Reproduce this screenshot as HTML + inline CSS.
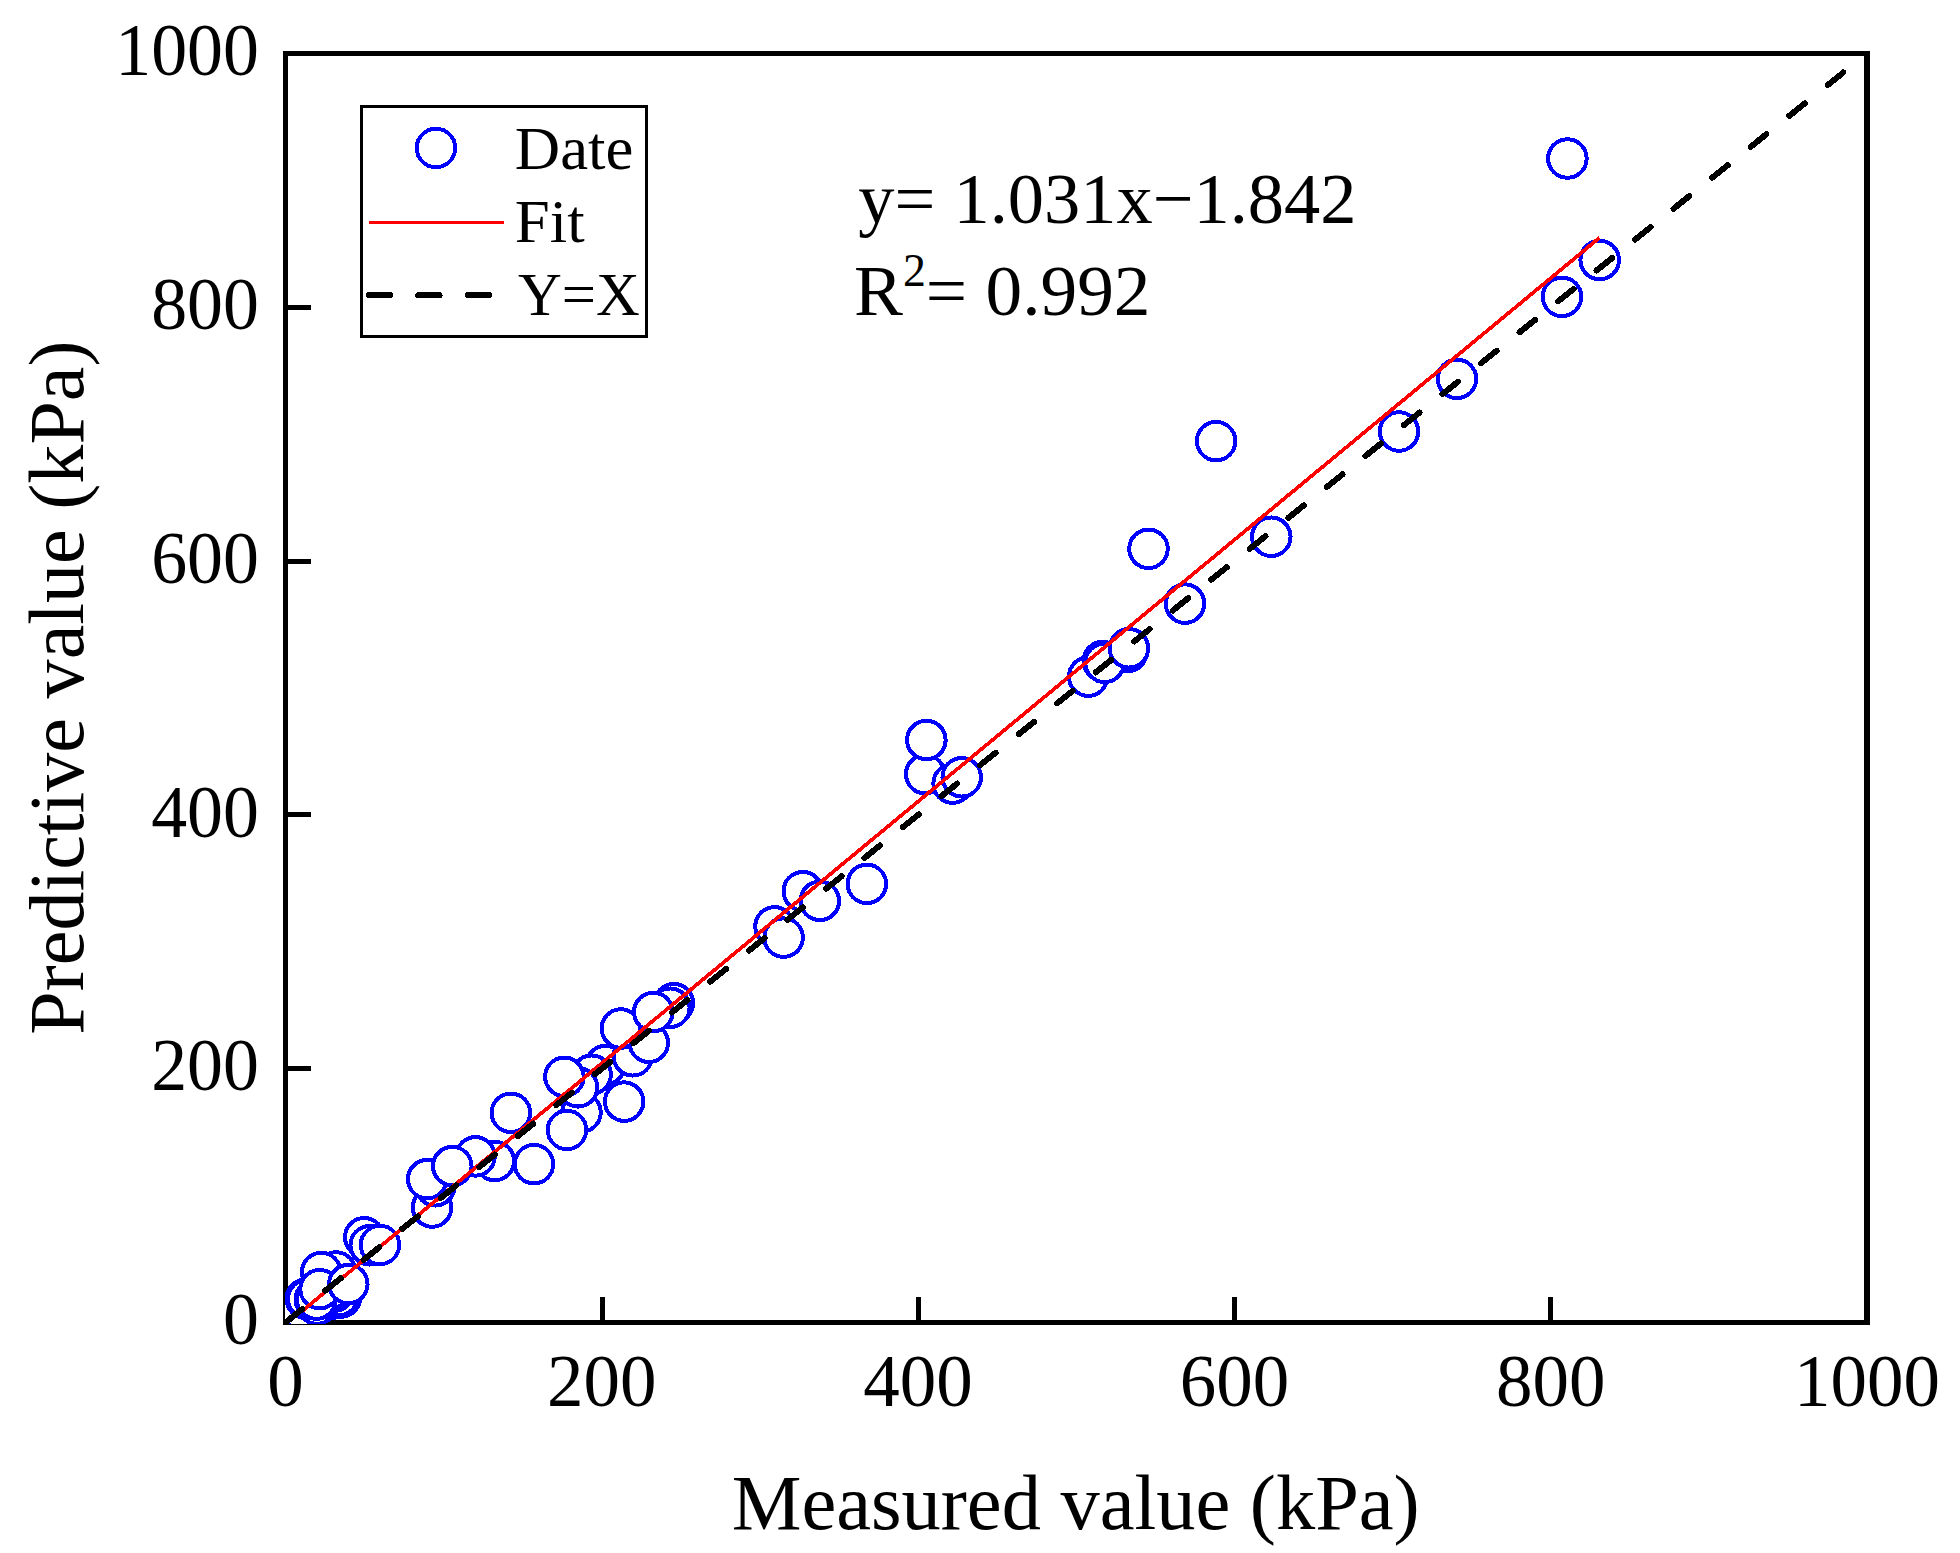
<!DOCTYPE html>
<html lang="en"><head><meta charset="utf-8"><title>Predictive vs Measured</title>
<style>html,body{margin:0;padding:0;background:#fff}svg{display:block}text{font-family:"Liberation Serif","Times New Roman",Times,serif;fill:#000}</style></head><body>
<svg width="1960" height="1553" viewBox="0 0 1960 1553">
<rect width="1960" height="1553" fill="#fff"/>
<defs><clipPath id="ax"><rect x="285" y="53.5" width="1582" height="1270.5"/></clipPath></defs>
<g shape-rendering="crispEdges" stroke="#000" fill="none">
<rect x="285.5" y="53.5" width="1581.5" height="1269.0" stroke-width="5"/>
<rect x="1864" y="51" width="6" height="1274" fill="#000" stroke="none"/>
<line x1="602.6" y1="1322.5" x2="602.6" y2="1297.0" stroke-width="5"/>
<line x1="285.5" y1="1068.7" x2="311.0" y2="1068.7" stroke-width="5"/>
<line x1="918.1" y1="1322.5" x2="918.1" y2="1297.0" stroke-width="5"/>
<line x1="285.5" y1="814.9" x2="311.0" y2="814.9" stroke-width="5"/>
<line x1="1234.4" y1="1322.5" x2="1234.4" y2="1297.0" stroke-width="5"/>
<line x1="285.5" y1="561.1" x2="311.0" y2="561.1" stroke-width="5"/>
<line x1="1550.7" y1="1322.5" x2="1550.7" y2="1297.0" stroke-width="5"/>
<line x1="285.5" y1="307.3" x2="311.0" y2="307.3" stroke-width="5"/>
</g>
<g clip-path="url(#ax)" shape-rendering="crispEdges">
<g fill="#fff" stroke="#0000ff" stroke-width="4">
<circle cx="299.0" cy="1308.5" r="19.25"/>
<circle cx="317.0" cy="1304.5" r="19.25"/>
<circle cx="305.7" cy="1298.7" r="19.25"/>
<circle cx="307.3" cy="1299.0" r="19.25"/>
<circle cx="330.7" cy="1299.0" r="19.25"/>
<circle cx="340.9" cy="1297.5" r="19.25"/>
<circle cx="338.8" cy="1296.0" r="19.25"/>
<circle cx="334.1" cy="1291.6" r="19.25"/>
<circle cx="314.8" cy="1299.4" r="19.25"/>
<circle cx="335.8" cy="1287.5" r="19.25"/>
<circle cx="316.3" cy="1299.6" r="19.25"/>
<circle cx="336.2" cy="1271.5" r="19.25"/>
<circle cx="321.2" cy="1272.0" r="19.25"/>
<circle cx="319.6" cy="1289.2" r="19.25"/>
<circle cx="348.3" cy="1284.1" r="19.25"/>
<circle cx="364.3" cy="1237.3" r="19.25"/>
<circle cx="369.7" cy="1245.3" r="19.25"/>
<circle cx="380.0" cy="1245.0" r="19.25"/>
<circle cx="432.1" cy="1207.5" r="19.25"/>
<circle cx="435.3" cy="1186.3" r="19.25"/>
<circle cx="427.2" cy="1179.2" r="19.25"/>
<circle cx="494.8" cy="1161.0" r="19.25"/>
<circle cx="475.5" cy="1156.4" r="19.25"/>
<circle cx="452.3" cy="1166.1" r="19.25"/>
<circle cx="510.9" cy="1112.8" r="19.25"/>
<circle cx="534.0" cy="1164.1" r="19.25"/>
<circle cx="581.5" cy="1112.4" r="19.25"/>
<circle cx="567.0" cy="1130.0" r="19.25"/>
<circle cx="624.2" cy="1101.6" r="19.25"/>
<circle cx="605.5" cy="1065.1" r="19.25"/>
<circle cx="591.6" cy="1074.7" r="19.25"/>
<circle cx="578.0" cy="1087.3" r="19.25"/>
<circle cx="564.4" cy="1076.8" r="19.25"/>
<circle cx="632.8" cy="1056.3" r="19.25"/>
<circle cx="648.8" cy="1042.7" r="19.25"/>
<circle cx="620.9" cy="1028.5" r="19.25"/>
<circle cx="673.9" cy="1003.1" r="19.25"/>
<circle cx="670.3" cy="1007.7" r="19.25"/>
<circle cx="653.3" cy="1012.0" r="19.25"/>
<circle cx="774.5" cy="926.4" r="19.25"/>
<circle cx="783.6" cy="937.6" r="19.25"/>
<circle cx="802.8" cy="891.2" r="19.25"/>
<circle cx="819.8" cy="900.8" r="19.25"/>
<circle cx="866.9" cy="883.9" r="19.25"/>
<circle cx="925.2" cy="774.2" r="19.25"/>
<circle cx="926.4" cy="740.0" r="19.25"/>
<circle cx="952.6" cy="783.6" r="19.25"/>
<circle cx="961.7" cy="777.3" r="19.25"/>
<circle cx="1088.2" cy="676.6" r="19.25"/>
<circle cx="1127.6" cy="651.9" r="19.25"/>
<circle cx="1102.8" cy="661.0" r="19.25"/>
<circle cx="1104.6" cy="662.8" r="19.25"/>
<circle cx="1128.9" cy="648.3" r="19.25"/>
<circle cx="1185.0" cy="603.6" r="19.25"/>
<circle cx="1148.5" cy="548.8" r="19.25"/>
<circle cx="1216.1" cy="441.1" r="19.25"/>
<circle cx="1271.3" cy="536.7" r="19.25"/>
<circle cx="1399.0" cy="431.5" r="19.25"/>
<circle cx="1457.0" cy="378.9" r="19.25"/>
<circle cx="1562.0" cy="296.9" r="19.25"/>
<circle cx="1599.7" cy="260.0" r="19.25"/>
<circle cx="1567.4" cy="158.5" r="19.25"/>
</g>
<line x1="301.3" y1="1311.8" x2="1599.6" y2="237.7" stroke="#ff0000" stroke-width="3.7"/>
<line x1="285.5" y1="1322.5" x2="1867.0" y2="53.5" stroke="#000" stroke-width="6" stroke-linecap="round" stroke-dasharray="20 29.4" stroke-dashoffset="-1.36"/>
</g>
<text transform="translate(285.5,1405.7) scale(1.0,1.025)" font-size="73" text-anchor="middle">0</text>
<text transform="translate(259,1344.1) scale(0.985,1.025)" font-size="73" text-anchor="end">0</text>
<text transform="translate(601.8,1405.7) scale(1.0,1.025)" font-size="73" text-anchor="middle">200</text>
<text transform="translate(259,1090.3) scale(0.985,1.025)" font-size="73" text-anchor="end">200</text>
<text transform="translate(918.1,1405.7) scale(1.0,1.025)" font-size="73" text-anchor="middle">400</text>
<text transform="translate(259,836.5) scale(0.985,1.025)" font-size="73" text-anchor="end">400</text>
<text transform="translate(1234.4,1405.7) scale(1.0,1.025)" font-size="73" text-anchor="middle">600</text>
<text transform="translate(259,582.7) scale(0.985,1.025)" font-size="73" text-anchor="end">600</text>
<text transform="translate(1550.7,1405.7) scale(1.0,1.025)" font-size="73" text-anchor="middle">800</text>
<text transform="translate(259,328.9) scale(0.985,1.025)" font-size="73" text-anchor="end">800</text>
<text transform="translate(1867.0,1405.7) scale(1.0,1.025)" font-size="73" text-anchor="middle">1000</text>
<text transform="translate(259,75.1) scale(0.985,1.025)" font-size="73" text-anchor="end">1000</text>
<text transform="translate(1075.7,1528.5) scale(1.012,1.0)" font-size="77.5" text-anchor="middle">Measured value (kPa)</text>
<text transform="translate(82.8,687.6) rotate(-90) scale(1.0084,1.0)" font-size="77.5" text-anchor="middle">Predictive value (kPa)</text>
<g shape-rendering="crispEdges">
<rect x="361.5" y="106.5" width="285" height="230" fill="#fff" stroke="#000" stroke-width="3"/>
<circle cx="436" cy="148" r="19.25" fill="#fff" stroke="#0000ff" stroke-width="4"/>
<line x1="369" y1="222.5" x2="504" y2="222.5" stroke="#ff0000" stroke-width="3"/>
<line x1="368.8" y1="295.2" x2="504" y2="295.2" stroke="#000" stroke-width="6" stroke-linecap="round" stroke-dasharray="21.3 28.16"/>
</g>
<text transform="translate(514.8,169) scale(1.03,1.0)" font-size="61" text-anchor="start">Date</text>
<text transform="translate(514.8,241.5) scale(1.03,1.0)" font-size="61" text-anchor="start">Fit</text>
<text transform="translate(518,314.5) scale(0.995,1.0)" font-size="61" text-anchor="start">Y=X</text>
<text transform="translate(858.3,223) scale(1.006,1.01)" font-size="72" text-anchor="start">y= 1.031x−1.842</text>
<text transform="translate(854,315.3) scale(1.0186,1.01)" font-size="72" text-anchor="start">R<tspan font-size="45" dy="-29">2</tspan><tspan dy="29">= 0.992</tspan></text>
</svg></body></html>
